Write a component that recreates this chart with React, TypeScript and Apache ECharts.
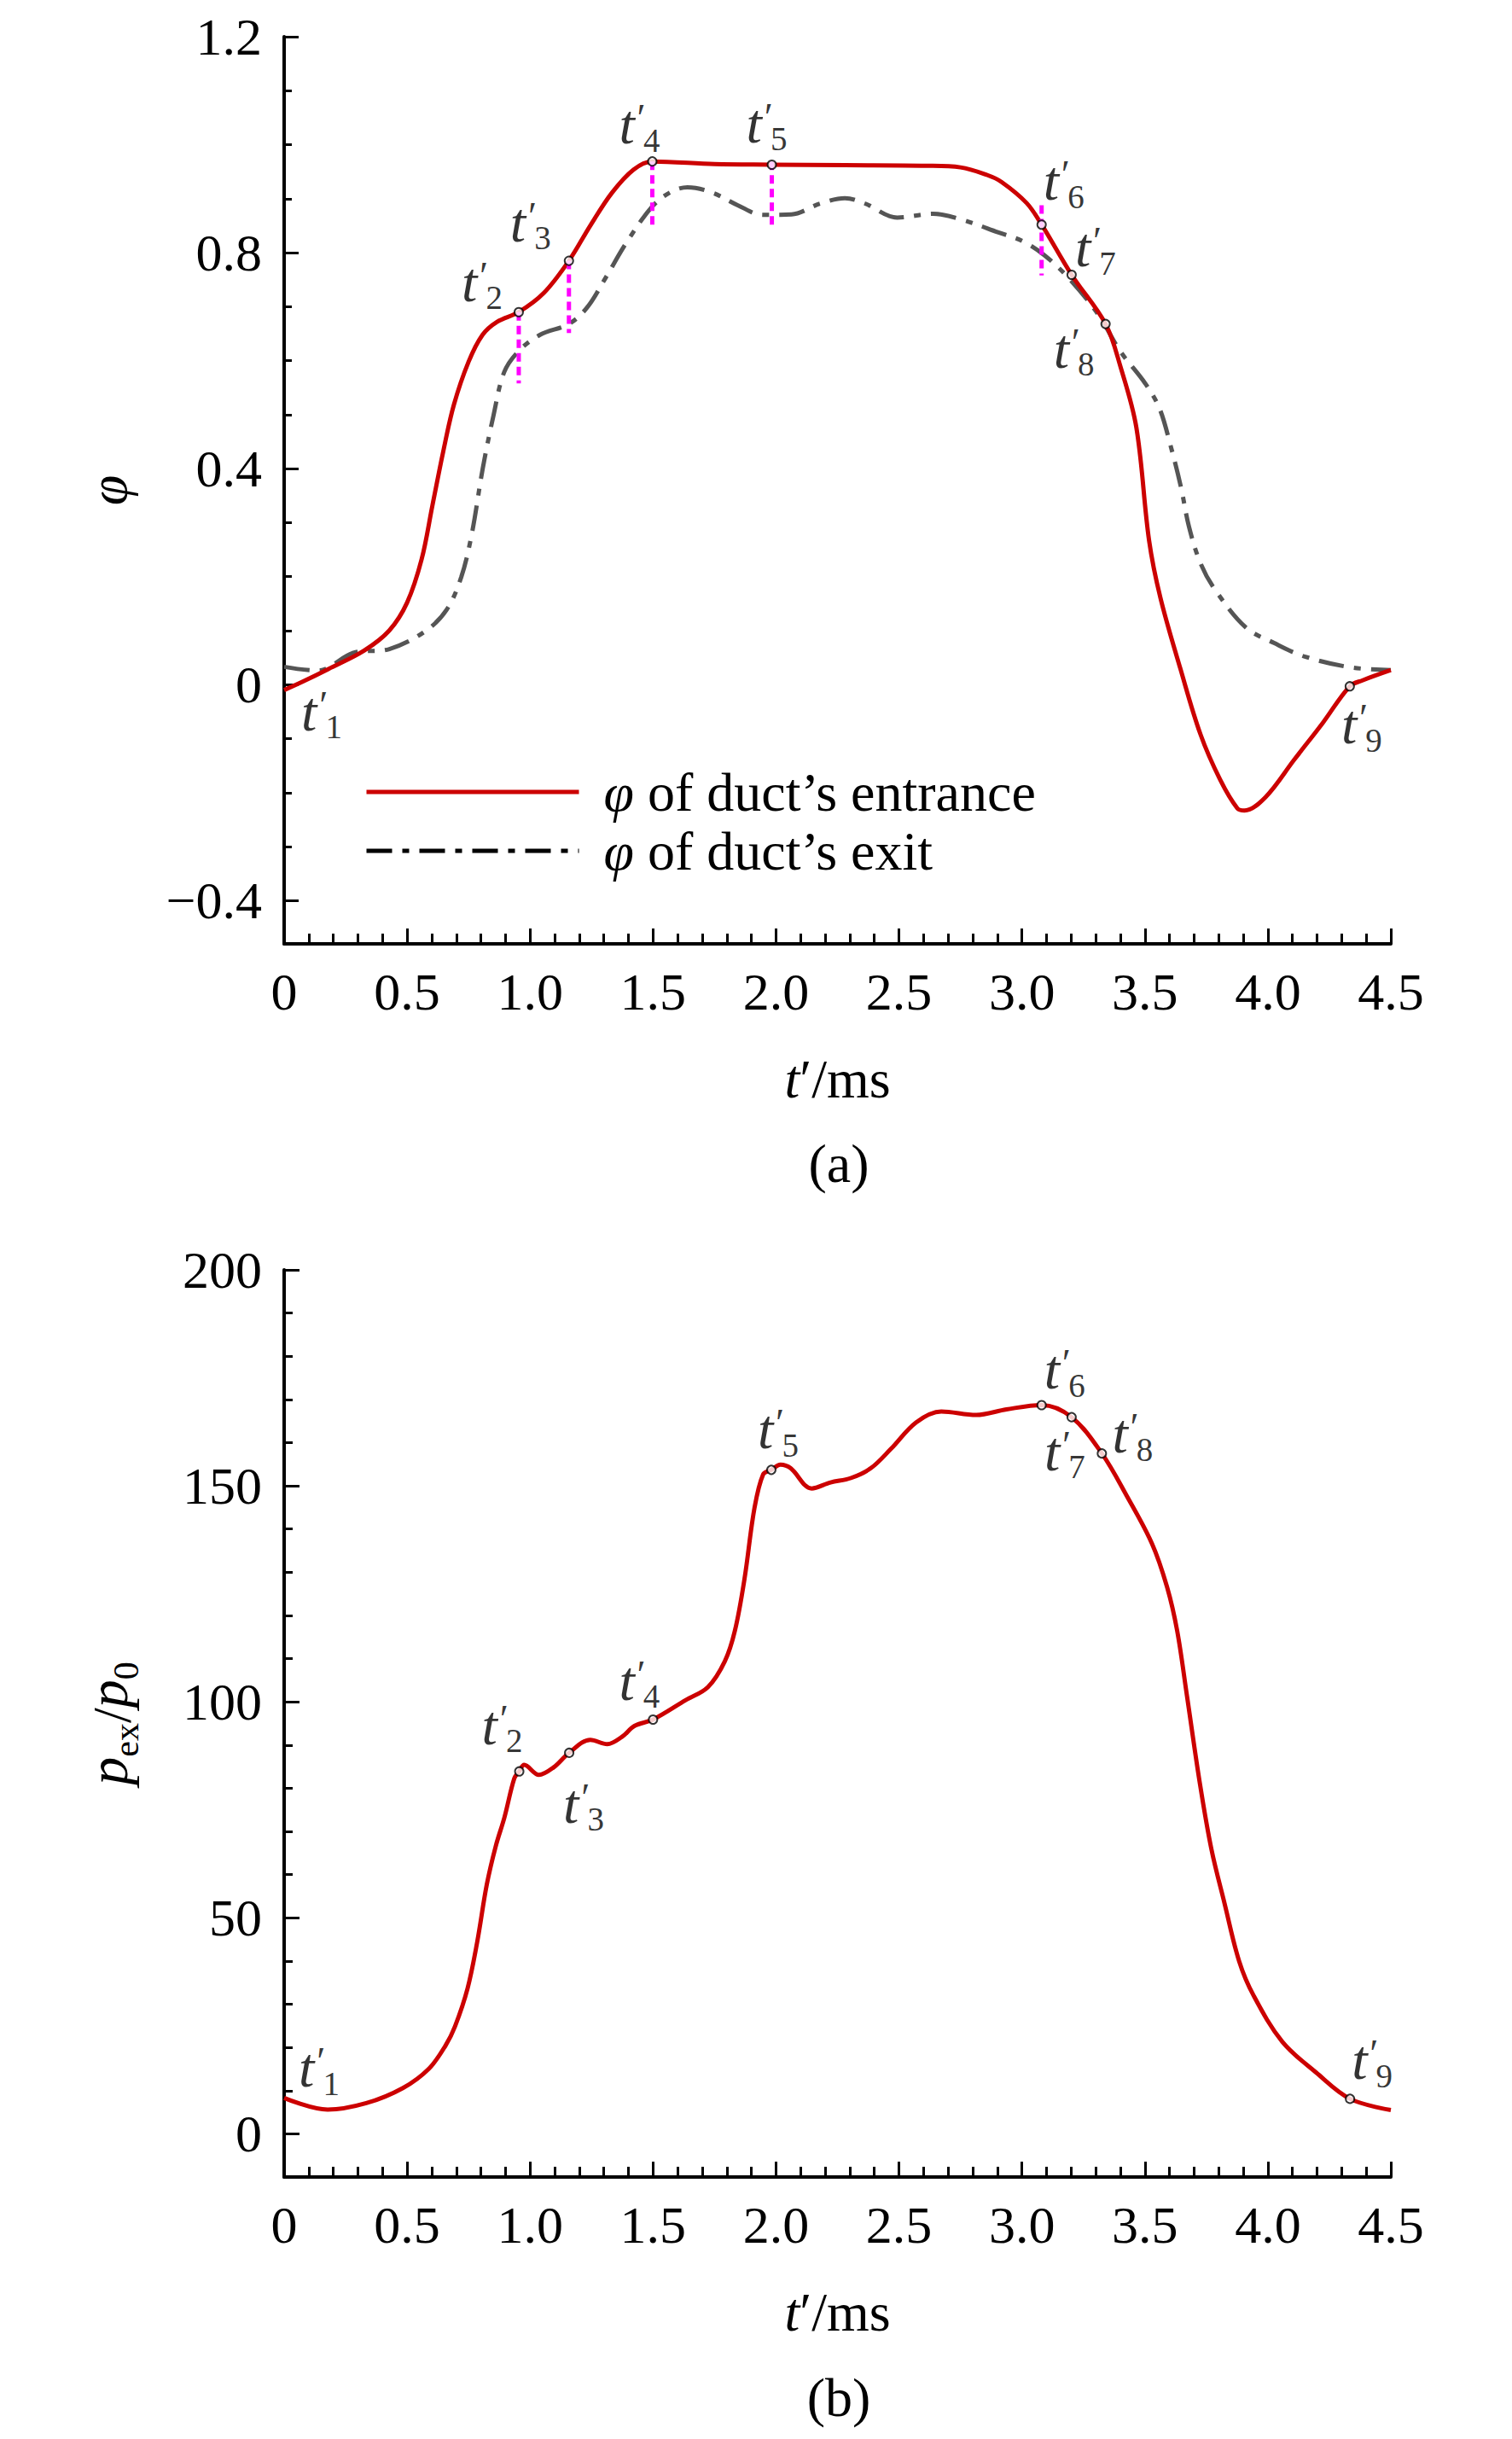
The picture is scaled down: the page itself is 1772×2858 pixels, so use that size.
import React, { useEffect, useRef } from "react";
import * as echarts from "echarts";

// ---------- data (a) ----------
const phiInT = [0, 0.077, 0.18, 0.325, 0.427, 0.5, 0.559, 0.603, 0.647, 0.69, 0.75, 0.807, 0.866, 0.954, 1.055, 1.158, 1.246, 1.333, 1.421, 1.497, 1.75, 1.983, 2.28, 2.61, 2.75, 2.858, 2.917, 3.019, 3.08, 3.202, 3.34, 3.4, 3.465, 3.517, 3.563, 3.644, 3.726, 3.806, 3.876, 3.905, 3.991, 4.107, 4.223, 4.333, 4.385, 4.5];
const phiIn = [-0.01, 0.006, 0.029, 0.063, 0.1, 0.152, 0.232, 0.332, 0.432, 0.518, 0.598, 0.648, 0.672, 0.69, 0.725, 0.785, 0.851, 0.911, 0.954, 0.969, 0.964, 0.963, 0.962, 0.961, 0.958, 0.944, 0.931, 0.892, 0.852, 0.759, 0.668, 0.59, 0.477, 0.267, 0.161, 0.03, -0.092, -0.176, -0.229, -0.233, -0.208, -0.139, -0.071, -0.003, 0.008, 0.027];

const phiOutT = [0, 0.135, 0.282, 0.428, 0.574, 0.661, 0.72, 0.763, 0.807, 0.851, 0.895, 0.954, 1.041, 1.158, 1.231, 1.304, 1.391, 1.494, 1.567, 1.64, 1.742, 1.844, 1.947, 2.063, 2.18, 2.28, 2.362, 2.493, 2.639, 2.756, 2.902, 3.004, 3.092, 3.194, 3.311, 3.399, 3.501, 3.559, 3.603, 3.647, 3.679, 3.726, 3.785, 3.91, 4.026, 4.15, 4.338, 4.5];
const phiOut = [0.033, 0.026, 0.059, 0.066, 0.099, 0.139, 0.199, 0.279, 0.399, 0.498, 0.579, 0.618, 0.648, 0.668, 0.698, 0.751, 0.818, 0.884, 0.911, 0.921, 0.911, 0.888, 0.87, 0.871, 0.891, 0.901, 0.891, 0.865, 0.872, 0.861, 0.838, 0.821, 0.795, 0.751, 0.685, 0.618, 0.558, 0.512, 0.445, 0.365, 0.293, 0.225, 0.176, 0.106, 0.077, 0.052, 0.032, 0.027];

const markerLabelsA = ["1", "2", "3", "4", "5", "6", "7", "8", "9"];
const markerTA = [0, 0.954, 1.158, 1.497, 1.983, 3.08, 3.202, 3.34, 4.333];
const markerVA = [-0.01, 0.69, 0.785, 0.969, 0.963, 0.852, 0.759, 0.668, -0.003];

const guideT = [0.954, 1.158, 1.497, 1.983, 3.08];
const guideTop = [0.69, 0.785, 0.969, 0.969, 0.888];
const guideBottom = [0.558, 0.651, 0.846, 0.846, 0.758];

const yTicksA = [-0.4, 0, 0.4, 0.8, 1.2];
const yMinorA = [-0.3, -0.2, -0.1, 0.1, 0.2, 0.3, 0.5, 0.6, 0.7, 0.9, 1.0, 1.1];

// ---------- data (b) ----------
const pT = [0, 0.177, 0.334, 0.483, 0.589, 0.656, 0.695, 0.746, 0.785, 0.824, 0.86, 0.896, 0.936, 0.956, 0.976, 1.036, 1.095, 1.159, 1.245, 1.314, 1.374, 1.424, 1.5, 1.633, 1.723, 1.792, 1.833, 1.872, 1.912, 1.948, 1.981, 2.018, 2.059, 2.145, 2.222, 2.304, 2.386, 2.468, 2.57, 2.672, 2.814, 2.937, 3.08, 3.202, 3.325, 3.427, 3.529, 3.59, 3.631, 3.671, 3.723, 3.77, 3.824, 3.883, 3.942, 4.059, 4.196, 4.334, 4.5];
const pVal = [8.3, 5.6, 7.1, 10.6, 15.1, 20.4, 24.9, 33.7, 44.4, 57.7, 66.5, 73.3, 82.3, 83.9, 85.4, 83.1, 84.8, 88.2, 91.2, 90.2, 91.9, 94.4, 95.9, 100.4, 103.4, 109.4, 116.5, 128.5, 144.7, 152.7, 153.7, 154.9, 154.1, 149.4, 150.8, 151.8, 154.1, 158.6, 164.7, 167.2, 166.4, 167.7, 168.7, 165.9, 157.5, 147.6, 136.6, 126.6, 116.5, 101.4, 81.3, 66.0, 53.3, 40.0, 32.0, 21.3, 14.2, 8.1, 5.5];

const markerLabelsB = ["1", "2", "3", "4", "5", "6", "7", "8", "9"];
const markerTB = [0, 0.956, 1.159, 1.5, 1.981, 3.08, 3.202, 3.325, 4.334];
const markerVB = [8.3, 83.9, 88.2, 95.9, 153.7, 168.7, 165.9, 157.5, 8.1];

const yTicksB = [0, 50, 100, 150, 200];
const yMinorB = [10, 20, 30, 40, 60, 70, 80, 90, 110, 120, 130, 140, 160, 170, 180, 190];

const nameIn = "φ of duct’s entrance";
const nameOut = "φ of duct’s exit";

// ---------- layout / style config ----------
const FONT = "'Liberation Serif', 'Times New Roman', serif";
const labelOffsetA: number[][] = [[44, 27], [-43, -33], [-45, -43], [-15, -41], [-6, -46], [26, -49], [28, -30], [-37, 31], [14, 47]];
const labelOffsetB: number[][] = [[41, -33], [-20, -52], [17, 62], [-16, -43], [8, -45], [27, -39], [-8, 42], [36, -21], [26, -43]];

const zip = (a: number[], b: number[]) => a.map((v, i) => [v, b[i]]);

const richLabel = {
  t: { fontFamily: FONT, fontStyle: "italic", fontSize: 66, color: "#000", padding: [0, 0, 5, 0], verticalAlign: "bottom" },
  q: { fontFamily: FONT, fontStyle: "italic", fontSize: 46, color: "#000", padding: [0, 0, 22, 0], verticalAlign: "bottom" },
  s: { fontFamily: FONT, fontSize: 39, color: "#000", verticalAlign: "bottom" },
};

function markerSeries(ts: number[], vs: number[], labels: string[], offs: number[][], xi: number, yi: number) {
  return {
    type: "scatter",
    xAxisIndex: xi,
    yAxisIndex: yi,
    z: 5,
    symbol: "emptyCircle",
    symbolSize: 10,
    itemStyle: { color: "#000", borderColor: "#000", borderWidth: 2 },
    label: { show: true, position: "inside", rich: richLabel },
    silent: true,
    data: ts.map((t, i) => ({
      value: [t, vs[i]],
      ...(i === 0 ? { symbolSize: 0.1, itemStyle: { color: "rgba(0,0,0,0)", borderColor: "rgba(0,0,0,0)" } } : {}),
      label: { offset: offs[i], formatter: "{t|t}{q|′}{s|" + labels[i] + "}" },
    })),
  };
}

const xAxisBase = (gi: number) => ({
  type: "value",
  gridIndex: gi,
  min: 0,
  max: 4.5,
  interval: 0.5,
  axisLine: { show: true, onZero: false, lineStyle: { color: "#000", width: 4 } },
  axisTick: { show: true, inside: true, length: 18, lineStyle: { color: "#000", width: 3 } },
  minorTick: { show: true, splitNumber: 5, length: 12, lineStyle: { color: "#000", width: 3 } },
  splitLine: { show: false },
  axisLabel: {
    fontFamily: FONT, fontSize: 62, color: "#000", margin: 26, lineHeight: 60,
    formatter: (v: number) => (v === 0 ? "0" : v.toFixed(1)),
  },
  name: "{i|t}′/ms",
  nameLocation: "middle",
  nameGap: 127,
  nameTextStyle: {
    fontFamily: FONT, fontSize: 64, color: "#000", lineHeight: 62,
    rich: { i: { fontFamily: FONT, fontStyle: "italic", fontSize: 64, color: "#000" } },
  },
});

export default function App() {
  const ref = useRef<HTMLDivElement>(null);
  useEffect(() => {
    document.body.style.margin = "0";
    if (!ref.current) return;
    const chart = echarts.init(ref.current, undefined, { renderer: "svg" });

    const guideSeries = guideT.map((t, i) => ({
      type: "line",
      xAxisIndex: 0,
      yAxisIndex: 0,
      z: 4,
      symbol: "none",
      silent: true,
      lineStyle: { color: "#FF00FF", width: 5, type: [10, 6] },
      data: [[t, guideTop[i]], [t, guideBottom[i]]],
    }));

    const option = {
      animation: false,
      backgroundColor: "#fff",
      grid: [
        { left: 333, top: 43, width: 1297, height: 1063 },
        { left: 333, top: 1488, width: 1297, height: 1063 },
      ],
      xAxis: [xAxisBase(0), xAxisBase(1)],
      yAxis: [
        {
          type: "value", gridIndex: 0, min: -0.48, max: 1.2,
          axisLine: { show: true, onZero: false, lineStyle: { color: "#000", width: 4 } },
          axisTick: { show: true, inside: true, length: 17, customValues: yTicksA, lineStyle: { color: "#000", width: 3 } },
          axisLabel: {
            customValues: yTicksA, fontFamily: FONT, fontSize: 62, color: "#000", margin: 26,
            formatter: (v: number) => (Math.abs(v) < 1e-9 ? "0" : v < 0 ? "−" + Math.abs(v).toFixed(1) : v.toFixed(1)),
          },
          splitLine: { show: false },
          name: "φ", nameLocation: "middle", nameRotate: 90, nameGap: 175,
          nameTextStyle: { fontFamily: FONT, fontStyle: "italic", fontSize: 64, color: "#000" },
        },
        {
          type: "value", gridIndex: 0, min: -0.48, max: 1.2, position: "left",
          axisLine: { show: false, onZero: false },
          axisTick: { show: true, inside: true, length: 9, customValues: yMinorA, lineStyle: { color: "#000", width: 3 } },
          axisLabel: { show: false },
          splitLine: { show: false },
        },
        {
          type: "value", gridIndex: 1, min: -10, max: 200,
          axisLine: { show: true, onZero: false, lineStyle: { color: "#000", width: 4 } },
          axisTick: { show: true, inside: true, length: 18, customValues: yTicksB, lineStyle: { color: "#000", width: 3 } },
          axisLabel: { customValues: yTicksB, fontFamily: FONT, fontSize: 62, color: "#000", margin: 26, formatter: (v: number) => String(v) },
          splitLine: { show: false },
          name: "{i|p}{s|ex}/{i|p}{s|0}", nameLocation: "middle", nameRotate: 90, nameGap: 164,
          nameTextStyle: {
            fontFamily: FONT, fontSize: 64, color: "#000",
            rich: {
              i: { fontFamily: FONT, fontStyle: "italic", fontSize: 66, color: "#000", padding: [0, 0, 10, 0], verticalAlign: "bottom" },
              s: { fontFamily: FONT, fontSize: 42, color: "#000", verticalAlign: "bottom" },
            },
          },
        },
        {
          type: "value", gridIndex: 1, min: -10, max: 200, position: "left",
          axisLine: { show: false, onZero: false },
          axisTick: { show: true, inside: true, length: 10, customValues: yMinorB, lineStyle: { color: "#000", width: 3 } },
          axisLabel: { show: false },
          splitLine: { show: false },
        },
      ],
      legend: {
        orient: "vertical",
        left: 427,
        top: 896,
        padding: 0,
        itemWidth: 249,
        itemHeight: 30,
        itemGap: 5,
        itemStyle: { opacity: 0 },
        lineStyle: { width: 5 },
        data: [
          { name: nameIn },
          { name: nameOut, lineStyle: { color: "#000", width: 5 } },
        ],
        formatter: (n: string) => "{i|φ}" + n.slice(1),
        textStyle: {
          fontFamily: FONT, fontSize: 64, lineHeight: 62, color: "#000", padding: [0, 0, 0, 24],
          rich: { i: { fontFamily: FONT, fontStyle: "italic", fontSize: 64, color: "#000" } },
        },
      },
      graphic: [
        { type: "text", x: 983, y: 1363, style: { text: "(a)", fontFamily: FONT, fontSize: 64, fill: "#000", align: "center", verticalAlign: "middle" } },
        { type: "text", x: 983, y: 2809, style: { text: "(b)", fontFamily: FONT, fontSize: 64, fill: "#000", align: "center", verticalAlign: "middle" } },
      ],
      series: [
        {
          name: nameIn, type: "line", xAxisIndex: 0, yAxisIndex: 0, z: 3, symbol: "none", smooth: 0.35,
          lineStyle: { color: "#CC0000", width: 5 }, itemStyle: { color: "#CC0000" },
          data: zip(phiInT, phiIn),
        },
        {
          name: nameOut, type: "line", xAxisIndex: 0, yAxisIndex: 0, z: 2, symbol: "none", smooth: 0.35,
          lineStyle: { color: "#555555", width: 5, type: [30, 12, 8, 12] }, itemStyle: { color: "#555555" },
          data: zip(phiOutT, phiOut),
        },
        ...guideSeries,
        markerSeries(markerTA, markerVA, markerLabelsA, labelOffsetA, 0, 0),
        {
          name: "p", type: "line", xAxisIndex: 1, yAxisIndex: 2, z: 3, symbol: "none", smooth: 0.35,
          lineStyle: { color: "#CC0000", width: 5 }, itemStyle: { color: "#CC0000" },
          data: zip(pT, pVal),
        },
        markerSeries(markerTB, markerVB, markerLabelsB, labelOffsetB, 1, 2),
      ],
    };
    chart.setOption(option as any);
    return () => chart.dispose();
  }, []);
  return <div ref={ref} style={{ width: 1772, height: 2858 }} />;
}
